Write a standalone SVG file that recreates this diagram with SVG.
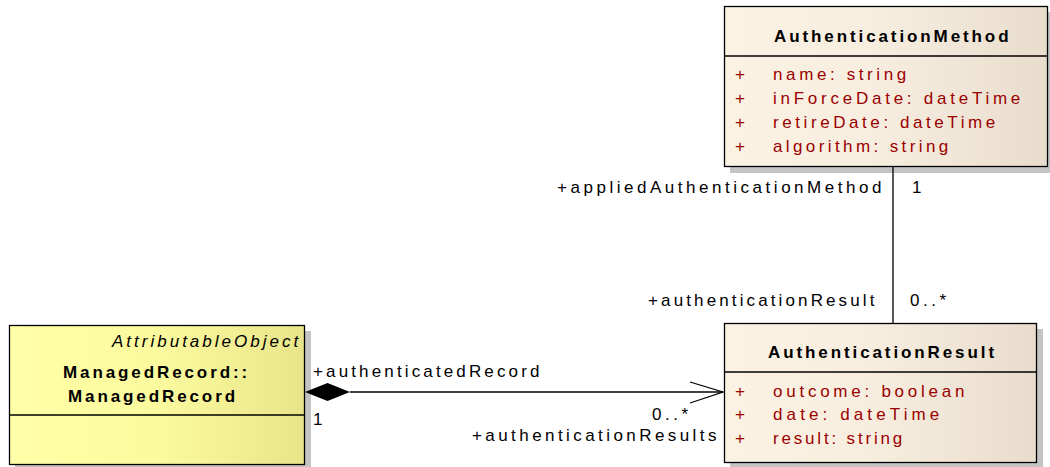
<svg xmlns="http://www.w3.org/2000/svg" width="1050" height="467" viewBox="0 0 1050 467">
<defs>
<linearGradient id="gBeige" x1="0" y1="0" x2="1" y2="0">
<stop offset="0" stop-color="#FCF2E4"/>
<stop offset="0.45" stop-color="#F8EEE0"/>
<stop offset="1" stop-color="#E8DDCD"/>
</linearGradient>
<linearGradient id="gYellow" x1="0" y1="0" x2="1" y2="0">
<stop offset="0" stop-color="#FFFFA8"/>
<stop offset="0.5" stop-color="#FCFA9E"/>
<stop offset="1" stop-color="#E8E48A"/>
</linearGradient>
</defs>
<style>
.box{stroke:#000;stroke-width:1.3}
.shadow{fill:#C4C4C4}
.sep{stroke:#000;stroke-width:1.3}
.title{font-family:"Liberation Sans",Arial,sans-serif;font-size:17px;font-weight:bold;letter-spacing:2.9px;fill:#000}
.attr{font-family:"Liberation Sans",Arial,sans-serif;font-size:17px;letter-spacing:3.75px;fill:#9B0000}
.lbl{font-family:"Liberation Sans",Arial,sans-serif;font-size:17px;letter-spacing:3.55px;fill:#000}
.ital{font-family:"Liberation Sans",Arial,sans-serif;font-size:17px;font-style:italic;letter-spacing:3px;fill:#000}
.line{stroke:#000;stroke-width:1.3;fill:none}
</style>

<g id="AuthenticationMethod">
<rect class="shadow" x="730" y="12" width="324" height="161"/>
<rect class="box" x="724.5" y="6.5" width="323" height="160" fill="url(#gBeige)"/>
<line class="sep" x1="724.5" y1="56" x2="1047.5" y2="56"/>
<text class="title" x="774" y="42">AuthenticationMethod</text>
<text class="attr" x="735" y="80">+</text>
<text class="attr" x="773" y="80" textLength="137" lengthAdjust="spacing">name: string</text>
<text class="attr" x="735" y="104">+</text>
<text class="attr" x="773" y="104">inForceDate: dateTime</text>
<text class="attr" x="735" y="128">+</text>
<text class="attr" x="773" y="128" textLength="226" lengthAdjust="spacing">retireDate: dateTime</text>
<text class="attr" x="735" y="152">+</text>
<text class="attr" x="773" y="152" textLength="179" lengthAdjust="spacing">algorithm: string</text>
</g>

<g id="AuthenticationResult">
<rect class="shadow" x="730" y="329" width="313" height="140"/>
<rect class="box" x="724.5" y="323.5" width="312" height="139" fill="url(#gBeige)"/>
<line class="sep" x1="724.5" y1="372" x2="1036.5" y2="372"/>
<text class="title" x="768" y="358">AuthenticationResult</text>
<text class="attr" x="735" y="397">+</text>
<text class="attr" x="773" y="397">outcome: boolean</text>
<text class="attr" x="735" y="420">+</text>
<text class="attr" x="773" y="420" textLength="170" lengthAdjust="spacing">date: dateTime</text>
<text class="attr" x="735" y="444">+</text>
<text class="attr" x="773" y="444" textLength="133" lengthAdjust="spacing">result: string</text>
</g>

<g id="ManagedRecord">
<rect class="shadow" x="15" y="331" width="296" height="140"/>
<rect class="box" x="9.5" y="325.5" width="295" height="139" fill="url(#gYellow)"/>
<line class="sep" x1="9.5" y1="415" x2="304.5" y2="415"/>
<text class="ital" x="112" y="347">AttributableObject</text>
<text class="title" x="63" y="378">ManagedRecord::</text>
<text class="title" x="68" y="402">ManagedRecord</text>
</g>

<g id="connectors">
<line class="line" x1="893" y1="167" x2="893" y2="323"/>
<line class="line" x1="350" y1="392" x2="723" y2="392"/>
<path d="M305,392 L327.5,383 L350,392 L327.5,401 Z" fill="#000"/>
<polyline class="line" points="690,382 723,392 690,403"/>
<text class="lbl" x="557" y="193" textLength="328" lengthAdjust="spacing">+appliedAuthenticationMethod</text>
<text class="lbl" x="912" y="193">1</text>
<text class="lbl" x="648" y="306" textLength="230" lengthAdjust="spacing">+authenticationResult</text>
<text class="lbl" x="910" y="306">0..*</text>
<text class="lbl" x="313" y="377" textLength="230" lengthAdjust="spacing">+authenticatedRecord</text>
<text class="lbl" x="313" y="425">1</text>
<text class="lbl" x="652" y="420">0..*</text>
<text class="lbl" x="472" y="441" textLength="248" lengthAdjust="spacing">+authenticationResults</text>
</g>
</svg>
